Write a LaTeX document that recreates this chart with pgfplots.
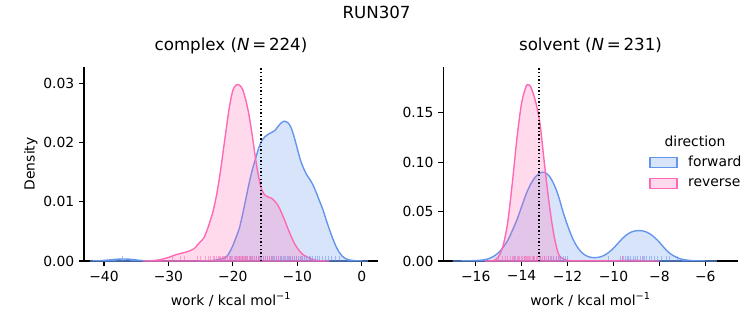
\documentclass[border=0pt]{standalone}
\usepackage{pgfplots}
\pgfplotsset{compat=1.18}
\usepackage{fontspec}
\setmainfont{DejaVu Sans}
\definecolor{fwd}{HTML}{6495ED}
\definecolor{rev}{HTML}{FF69B4}
\pgfplotsset{
  kdeax/.style={
    scale only axis, anchor=south west,
    height=139.9pt,
    axis x line*=bottom, axis y line*=left,
    axis line style={-, line width=0.8pt, black},
    every tick/.style={black, line width=0.8pt},
    tick align=outside, major tick length=3.5pt,
    minor tick num=0,
    scaled y ticks=false, scaled x ticks=false,
    ymin=0,
    tick label style={font=\fontsize{10}{12}\selectfont},
    title style={font=\fontsize{12}{14}\selectfont, at={(axis description cs:0.5,1)}, anchor=base, yshift=6pt},
    every axis x label/.style={at={(axis description cs:0.5,-0.2265)}, anchor=base, font=\fontsize{10}{12}\selectfont},
    every axis y label/.style={at={(axis description cs:-0.181,0.5)}, rotate=90, anchor=center, font=\fontsize{10}{12}\selectfont},
    xlabel={work / kcal mol\textsuperscript{−1}},
  },
  fwdkde/.style={smooth, fwd, line width=1pt, fill=fwd, fill opacity=0.25, draw opacity=1},
  revkde/.style={smooth, rev, line width=1pt, fill=rev, fill opacity=0.25, draw opacity=1},
  rugf/.style={ycomb, no marks, fwd, opacity=0.55, line width=0.5pt, forget plot},
  rugr/.style={ycomb, no marks, rev, opacity=0.55, line width=0.5pt, forget plot},
  vline/.style={black, line width=1pt, dash pattern=on 1pt off 1.65pt, forget plot},
}
\begin{document}
\begin{tikzpicture}
\useasboundingbox (0,0) rectangle (542.16pt,234pt);
\node[font=\fontsize{12}{14}\selectfont, anchor=base] at (271.1pt,221pt) {RUN307};
% ---------------- complex ----------------
\begin{axis}[kdeax,
  at={(60.48pt,46.08pt)}, width=211.68pt,
  xmin=-43.1, xmax=2.53, ymax=0.0328,
  xtick={-40,-30,-20,-10,0}, xticklabels={−40,−30,−20,−10,0},
  ytick={0,0.01,0.02,0.03}, yticklabels={0.00,0.01,0.02,0.03},
  ylabel={Density},
  title={complex (\textit{N}\,=\,224)},
]
\addplot[fwdkde] coordinates {
(-42.2,0) (-41,0.00003) (-40,0.0001) (-39,0.0002) (-38,0.0003) (-37,0.00034) (-36,0.0003) (-35,0.00018) (-34,0.00007) (-33,0.00002) (-32,0.00001) (-30,0) (-26,0) (-24,0.00005) (-23,0.0001) (-22,0.0003) (-21,0.0007) (-20.5,0.0015) (-20,0.0026) (-19.5,0.0040) (-19,0.0055) (-18.5,0.0078) (-18,0.0104) (-17.5,0.0130) (-17,0.0153) (-16.5,0.0172) (-16,0.0190) (-15.5,0.0203) (-15,0.0210) (-14.5,0.0214) (-14,0.0217) (-13.5,0.0220) (-13,0.0227) (-12.5,0.0233) (-12,0.0236) (-11.5,0.0234) (-11,0.0226) (-10.5,0.0210) (-10,0.0190) (-9.5,0.0170) (-9,0.0156) (-8.5,0.0145) (-8,0.0137) (-7.5,0.0127) (-7,0.0114) (-6.5,0.0100) (-6,0.0086) (-5.5,0.0069) (-5,0.0053) (-4.5,0.0038) (-4,0.0025) (-3.5,0.0015) (-3,0.0008) (-2.5,0.0004) (-2,0.0002) (-1,0.00005) (0,0.00001) (1,0)
} \closedcycle;
\addplot[revkde] coordinates {
(-34,0) (-33,0.00002) (-32,0.0001) (-31,0.0003) (-30,0.0006) (-29,0.0010) (-28,0.0013) (-27,0.0016) (-26,0.0021) (-25.5,0.0027) (-25,0.0033) (-24.5,0.0039) (-24,0.0052) (-23.5,0.0068) (-23,0.0087) (-22.5,0.0113) (-22,0.0146) (-21.5,0.0185) (-21,0.0225) (-20.5,0.0262) (-20,0.0288) (-19.5,0.0297) (-19,0.0297) (-18.5,0.0290) (-18,0.0272) (-17.5,0.0247) (-17,0.0213) (-16.5,0.0175) (-16,0.0142) (-15.5,0.0120) (-15,0.0111) (-14.5,0.0108) (-14,0.0106) (-13.5,0.0101) (-13,0.0094) (-12.5,0.0083) (-12,0.0070) (-11.5,0.0056) (-11,0.0043) (-10.5,0.0031) (-10,0.0022) (-9.5,0.0015) (-9,0.0010) (-8.5,0.0007) (-8,0.0004) (-7,0.0001) (-6,0.00002) (-5,0)
} \closedcycle;
\addplot[rugf] coordinates {
(-37.1,0.00082) (-21.2,0.00082) (-20.4,0.00082) (-19.6,0.00082) (-19.0,0.00082) (-18.5,0.00082) (-18.1,0.00082) (-17.7,0.00082) (-17.3,0.00082) (-17.0,0.00082) (-16.7,0.00082) (-16.4,0.00082) (-16.1,0.00082) (-15.8,0.00082) (-15.5,0.00082) (-15.2,0.00082) (-14.9,0.00082) (-14.6,0.00082) (-14.3,0.00082) (-14.0,0.00082) (-13.8,0.00082) (-13.5,0.00082) (-13.2,0.00082) (-12.9,0.00082) (-12.7,0.00082) (-12.4,0.00082) (-12.1,0.00082) (-11.9,0.00082) (-11.6,0.00082) (-11.3,0.00082) (-11.1,0.00082) (-10.8,0.00082) (-10.5,0.00082) (-10.2,0.00082) (-9.9,0.00082) (-9.6,0.00082) (-9.2,0.00082) (-8.9,0.00082) (-8.6,0.00082) (-8.2,0.00082) (-7.9,0.00082) (-7.6,0.00082) (-7.2,0.00082) (-6.9,0.00082) (-6.5,0.00082) (-6.1,0.00082) (-5.7,0.00082) (-5.2,0.00082) (-4.7,0.00082) (-4.1,0.00082) (-3.4,0.00082)
};
\addplot[rugr] coordinates {
(-29.4,0.00082) (-28.1,0.00082) (-27.6,0.00082) (-25.5,0.00082) (-25.0,0.00082) (-24.3,0.00082) (-23.8,0.00082) (-23.5,0.00082) (-23.1,0.00082) (-22.8,0.00082) (-22.6,0.00082) (-22.3,0.00082) (-22.1,0.00082) (-21.9,0.00082) (-21.7,0.00082) (-21.5,0.00082) (-21.3,0.00082) (-21.1,0.00082) (-20.9,0.00082) (-20.8,0.00082) (-20.6,0.00082) (-20.4,0.00082) (-20.3,0.00082) (-20.1,0.00082) (-20.0,0.00082) (-19.8,0.00082) (-19.7,0.00082) (-19.5,0.00082) (-19.4,0.00082) (-19.3,0.00082) (-19.1,0.00082) (-19.0,0.00082) (-18.8,0.00082) (-18.7,0.00082) (-18.5,0.00082) (-18.4,0.00082) (-18.2,0.00082) (-18.0,0.00082) (-17.9,0.00082) (-17.7,0.00082) (-17.5,0.00082) (-17.3,0.00082) (-17.1,0.00082) (-16.9,0.00082) (-16.6,0.00082) (-16.4,0.00082) (-16.1,0.00082) (-15.9,0.00082) (-15.6,0.00082) (-15.2,0.00082) (-14.9,0.00082) (-14.6,0.00082) (-14.3,0.00082) (-14.0,0.00082) (-13.7,0.00082) (-13.3,0.00082) (-12.9,0.00082) (-12.5,0.00082) (-12.0,0.00082) (-11.4,0.00082) (-10.8,0.00082) (-10.1,0.00082) (-9.4,0.00082)
};
\addplot[vline] coordinates {(-15.65,0) (-15.65,0.0328)};
\end{axis}
% ---------------- solvent ----------------
\begin{axis}[kdeax,
  at={(319.18pt,46.08pt)}, width=211.97pt,
  xmin=-17.41, xmax=-4.59, ymax=0.1965,
  xtick={-16,-14,-12,-10,-8,-6}, xticklabels={−16,−14,−12,−10,−8,−6},
  ytick={0,0.05,0.10,0.15}, yticklabels={0.00,0.05,0.10,0.15},
  title={solvent (\textit{N}\,=\,231)},
  legend style={at={(axis description cs:0.699,0.457)}, anchor=west, draw=none, fill=none,
    font=\fontsize{10}{12}\selectfont, inner sep=0pt, row sep=3pt, cells={anchor=west}},
  legend image code/.code={\draw[#1] (0pt,-3.6pt) rectangle (19.4pt,3.6pt);},
]
\addplot[fwdkde] coordinates {
(-17,0) (-16.5,0.0001) (-16,0.0005) (-15.6,0.0013) (-15.4,0.0027) (-15.2,0.0050) (-15,0.0085) (-14.8,0.0140) (-14.6,0.0210) (-14.4,0.0310) (-14.2,0.0420) (-14.0,0.0550) (-13.8,0.0680) (-13.6,0.0780) (-13.4,0.0850) (-13.2,0.0890) (-13.0,0.0897) (-12.8,0.0860) (-12.6,0.0780) (-12.4,0.0660) (-12.2,0.0500) (-12.0,0.0360) (-11.8,0.0240) (-11.6,0.0150) (-11.4,0.0090) (-11.2,0.0055) (-11.0,0.0038) (-10.8,0.0034) (-10.6,0.0040) (-10.4,0.0058) (-10.2,0.0088) (-10.0,0.0130) (-9.8,0.0180) (-9.6,0.0230) (-9.4,0.0270) (-9.2,0.0295) (-9.0,0.0306) (-8.8,0.0307) (-8.6,0.0296) (-8.4,0.0272) (-8.2,0.0236) (-8.0,0.0190) (-7.8,0.0135) (-7.6,0.0088) (-7.4,0.0055) (-7.2,0.0032) (-7.0,0.0017) (-6.6,0.0004) (-6.2,0.0001) (-5.5,0)
} \closedcycle;
\addlegendentry{\hspace{5.5pt}forward}
\addplot[revkde] coordinates {
(-15.6,0) (-15.4,0.0001) (-15.2,0.0006) (-15.0,0.0045) (-14.8,0.016) (-14.6,0.040) (-14.4,0.080) (-14.2,0.125) (-14.0,0.160) (-13.8,0.177) (-13.7,0.178) (-13.6,0.176) (-13.4,0.162) (-13.2,0.139) (-13.0,0.097) (-12.8,0.058) (-12.6,0.027) (-12.4,0.0075) (-12.2,0.0022) (-12.0,0.0007) (-11.8,0.0002) (-11.4,0.0001) (-10.5,0.0001) (-10,0.0002) (-9.4,0.0006) (-9.0,0.0006) (-8.6,0.0002) (-8,0.0)
} \closedcycle;
\addlegendentry{\hspace{5.5pt}reverse}
\addplot[rugf] coordinates {
(-14.3,0.0049) (-13.9,0.0049) (-13.5,0.0049) (-13.2,0.0049) (-13.0,0.0049) (-12.85,0.0049) (-12.7,0.0049) (-12.6,0.0049) (-12.5,0.0049) (-12.4,0.0049) (-12.3,0.0049) (-12.2,0.0049) (-12.1,0.0049) (-12.0,0.0049) (-10.23,0.0049) (-9.7,0.0049) (-9.6,0.0049) (-9.5,0.0049) (-9.4,0.0049) (-9.35,0.0049) (-9.25,0.0049) (-9.15,0.0049) (-9.05,0.0049) (-8.95,0.0049) (-8.85,0.0049) (-8.75,0.0049) (-8.65,0.0049) (-8.55,0.0049) (-8.45,0.0049) (-8.35,0.0049) (-8.2,0.0049) (-8.1,0.0049) (-7.9,0.0049) (-7.7,0.0049) (-7.55,0.0049) (-7.2,0.0049)
};
\addplot[rugr] coordinates {
(-15.0,0.0049) (-14.85,0.0049) (-14.7,0.0049) (-14.6,0.0049) (-14.5,0.0049) (-14.42,0.0049) (-14.35,0.0049) (-14.28,0.0049) (-14.2,0.0049) (-14.14,0.0049) (-14.08,0.0049) (-14.02,0.0049) (-13.96,0.0049) (-13.9,0.0049) (-13.85,0.0049) (-13.8,0.0049) (-13.75,0.0049) (-13.7,0.0049) (-13.65,0.0049) (-13.6,0.0049) (-13.55,0.0049) (-13.5,0.0049) (-13.44,0.0049) (-13.38,0.0049) (-13.32,0.0049) (-13.25,0.0049) (-13.18,0.0049) (-13.1,0.0049) (-13.02,0.0049) (-12.94,0.0049) (-12.85,0.0049) (-12.75,0.0049) (-12.62,0.0049) (-12.5,0.0049) (-12.35,0.0049) (-9.6,0.0049) (-9.55,0.0049) (-8.7,0.0049)
};
\addplot[vline] coordinates {(-13.24,0) (-13.24,0.1965)};
\node[font=\fontsize{10}{12}\selectfont] at (axis description cs:0.855,0.618) {direction};
\end{axis}
\end{tikzpicture}
\end{document}
